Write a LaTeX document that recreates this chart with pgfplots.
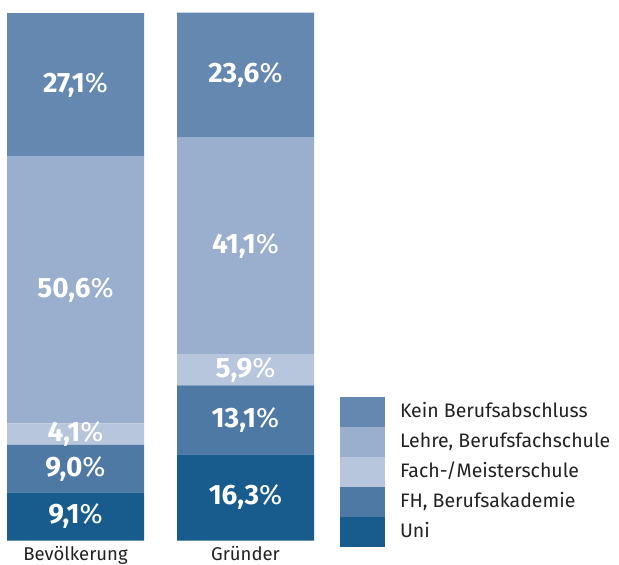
\documentclass[border=0pt]{standalone}
\usepackage{pgfplots}
\pgfplotsset{compat=1.18}
\usepackage{pgfplotstable}
\usepackage{fontspec}
\setmainfont{Fira Sans}

\definecolor{kein}{RGB}{101,136,176}
\definecolor{lehre}{RGB}{154,175,206}
\definecolor{fach}{RGB}{183,198,221}
\definecolor{fh}{RGB}{79,121,165}
\definecolor{uni}{RGB}{24,92,141}
\definecolor{txt}{RGB}{34,34,34}

% Anteile in Prozent
\pgfplotstableread{
x     kein lehre fach fh   uni
75.5  27.1 50.6  4.1  9.0  9.1
245.5 23.6 41.1  5.9  13.1 16.3
}\bildung

% align=center already puts the node in the middle of each stacked segment
\pgfplotsset{
  seg/.style={
    fill=#1, draw=none,
    point meta=explicit,
    nodes near coords={\pgfmathprintnumber{\pgfplotspointmeta}\mdseries\%},
    nodes near coords align={center},
    every node near coord/.append style={anchor=center,
      text=white, inner sep=0pt, font=\fontsize{28}{28}\selectfont\bfseries},
  },
}

\begin{document}
\begin{tikzpicture}
\begin{axis}[
    x=1pt, y=5.28pt,
    xmin=0, xmax=619,
    ymin=0, ymax=102.37,
    ybar stacked,
    bar width=137pt,
    clip=false,
    axis line style={draw=none},
    major tick length=0pt,
    ytick=\empty,
    xtick={75.5,245.5},
    xticklabels={Bevölkerung,Gründer},
    xticklabel style={font=\fontsize{18.5}{18.5}\selectfont, text=txt,
      anchor=base, inner sep=0pt, yshift=-20pt},
    /pgf/number format/.cd, fixed, fixed zerofill, precision=1, use comma,
      assume math mode=true,
    /pgfplots/.cd,
    reverse legend,
    legend cell align=left,
    legend image code/.code={
      \path (0pt,-10pt) rectangle (45pt,20pt);
      \fill[#1] (0pt,-2.5pt) rectangle (45pt,18.5pt);
    },
    legend style={at={(axis cs:340,27.1)}, anchor=north west,
      draw=none, fill=none, inner sep=0pt, outer sep=0pt,
      row sep=0pt, column sep=15pt,
      font=\fontsize{19.5}{19.5}\selectfont, text=txt,
      nodes={inner sep=0pt, anchor=base west}},
]
\addplot[seg=uni] table[x=x, y=uni, meta=uni] {\bildung};
\addlegendentry{Uni}
\addplot[seg=fh] table[x=x, y=fh, meta=fh] {\bildung};
\addlegendentry{FH, Berufsakademie}
\addplot[seg=fach] table[x=x, y=fach, meta=fach] {\bildung};
\addlegendentry{Fach-/Meisterschule}
\addplot[seg=lehre] table[x=x, y=lehre, meta=lehre] {\bildung};
\addlegendentry{Lehre, Berufsfachschule}
\addplot[seg=kein] table[x=x, y=kein, meta=kein] {\bildung};
\addlegendentry{Kein Berufsabschluss}

\coordinate (bl) at (axis cs:0,-4.45);
\coordinate (tr) at (axis cs:619,102.37);
\end{axis}
\pgfresetboundingbox
\path (bl) rectangle (tr);
\end{tikzpicture}
\end{document}
